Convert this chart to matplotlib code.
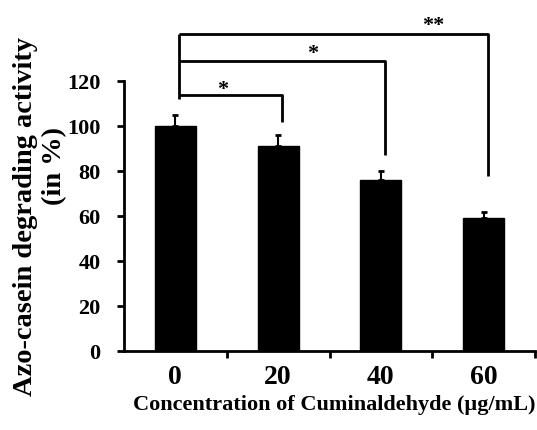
import matplotlib
matplotlib.use("Agg")
import matplotlib.pyplot as plt

categories = ["0", "20", "40", "60"]
values = [100, 91, 76, 59]
errors = [5, 5, 4, 3]
# significance brackets: (left bar, right bar, bracket level, right end level, label, label x, label y)
brackets = [(0, 1, 114, 102, "*", 0.46, 114.0),
            (0, 2, 129, 87, "*", 1.34, 130.0),
            (0, 3, 141, 78, "**", 2.51, 142.4)]
left_end = 112

plt.rcParams['font.family'] = ['Liberation Serif', 'DejaVu Serif']
plt.rcParams['font.weight'] = 'bold'

fig = plt.figure(figsize=(5.37, 4.30), dpi=100)
ax = fig.add_axes([0.2309, 0.1837, 0.7654, 0.6279])

x = list(range(len(categories)))
ax.bar(x, values, width=0.40, color='black', edgecolor='black')
ax.errorbar(x, values, yerr=[[0]*len(errors), errors], fmt='none', ecolor='black',
            elinewidth=1.5, capsize=2.5, capthick=2)

ax.set_xlim(-0.5, 3.5)
ax.set_ylim(0, 120)
ax.set_yticks(range(0, 121, 20))
ax.set_yticklabels([str(v) for v in range(0, 121, 20)], fontsize=16, fontweight='bold')
ax.set_xticks([0.5, 1.5, 2.5, 3.5])
ax.set_xticklabels([])
ax.set_xticks(x, minor=True)
ax.set_xticklabels(categories, minor=True, fontsize=20, fontweight='bold')
ax.tick_params(axis='x', which='minor', length=0, pad=10)
ax.tick_params(axis='x', which='major', direction='out', length=5, width=2)
ax.tick_params(axis='y', direction='out', length=5, width=2, pad=12)
for s in ['top', 'right']:
    ax.spines[s].set_visible(False)
for s in ['left', 'bottom']:
    ax.spines[s].set_linewidth(2)

off = 0.04
for (l, r, lev, rend, lab, lx, ly) in brackets:
    ax.plot([l + off, r + off, r + off], [lev, lev, rend], color='black', lw=2, clip_on=False,
            solid_capstyle='butt')
    ax.text(lx, ly, lab, ha='center', va='baseline', fontsize=16,
            fontweight='bold', clip_on=False)
ax.plot([off, off], [brackets[-1][2], left_end], color='black', lw=2, clip_on=False,
        solid_capstyle='butt')

fig.text(26/537, 1 - 217/430, "Azo-casein degrading activity", rotation=90, ha='center', va='center',
         fontsize=20.5, fontweight='bold')
fig.text(55/537, 1 - 166/430, "(in %)", rotation=90, ha='center', va='center',
         fontsize=20.5, fontweight='bold')
fig.text(334/537, 1 - 405/430, "Concentration of Cuminaldehyde (µg/mL)", ha='center', va='center',
         fontsize=16, fontweight='bold')

fig.savefig("out.png", dpi=100)
